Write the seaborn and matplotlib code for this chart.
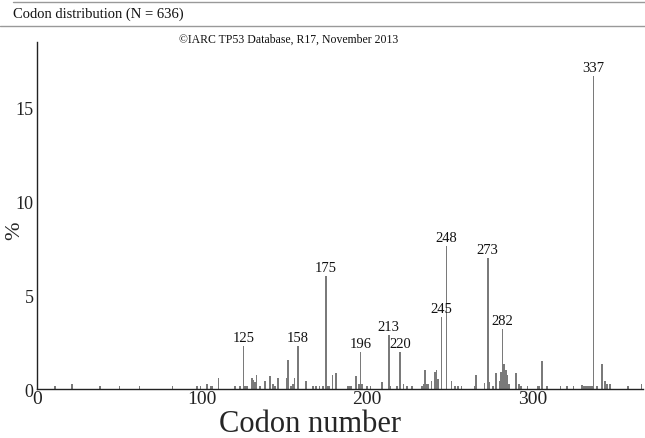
import pandas as pd
import matplotlib
matplotlib.use("Agg")
import matplotlib.pyplot as plt
from matplotlib.lines import Line2D
import seaborn as sns

# codon positions and % of mutations
codons = [11, 21, 38, 50, 62, 82, 97, 99, 103, 105, 106, 110, 120, 123, 125, 126, 127,
          130, 131, 132, 133, 135, 138, 141, 143, 144, 146, 151, 152, 154, 155, 156, 158,
          163, 167, 169, 171, 173, 175, 176, 177, 179, 181, 188, 189, 190, 193, 195, 196,
          197, 200, 202, 209, 213, 214, 218, 220, 222, 224, 227, 233, 234, 235, 236, 237,
          239, 241, 242, 243, 245, 248, 251, 253, 255, 257, 265, 266, 271, 273, 274, 276,
          278, 280, 281, 282, 283, 284, 285, 286, 290, 292, 293, 297, 303, 304, 306, 309,
          317, 321, 325, 330, 331, 332, 333, 334, 335, 336, 337, 339, 342, 344, 345, 347,
          358, 366]
percent = [0.16, 0.31, 0.16, 0.16, 0.16, 0.16, 0.16, 0.16, 0.31, 0.16, 0.16, 0.6, 0.16, 0.16, 2.3, 0.16, 0.16,
           0.6, 0.5, 0.42, 0.75, 0.16, 0.45, 0.72, 0.31, 0.16, 0.6, 0.6, 1.55, 0.16, 0.31, 0.6, 2.3,
           0.47, 0.16, 0.16, 0.16, 0.16, 6.05, 0.16, 0.16, 0.75, 0.9, 0.16, 0.16, 0.16, 0.72, 0.31, 1.98,
           0.31, 0.16, 0.16, 0.38, 2.9, 0.16, 0.16, 1.98, 0.31, 0.16, 0.16, 0.16, 0.31, 1.05, 0.31, 0.31,
           0.45, 0.95, 1.05, 0.55, 3.85, 7.65, 0.45, 0.16, 0.16, 0.16, 0.16, 0.75, 0.35, 7.0, 0.38, 0.16,
           0.9, 0.43, 0.94, 3.2, 1.38, 1.02, 0.75, 0.31, 0.9, 0.31, 0.16, 0.16, 0.16, 0.16, 1.52, 0.16,
           0.16, 0.16, 0.16, 0.25, 0.16, 0.16, 0.16, 0.16, 0.16, 0.16, 16.7, 0.16, 1.38, 0.43, 0.31, 0.31,
           0.16, 0.31]
hotspots = [125, 158, 175, 196, 213, 220, 245, 248, 273, 282, 337]

x_ticks = [0, 100, 200, 300]
y_ticks = [0, 5, 10, 15]

tabela = pd.DataFrame({"codon": codons, "pct": percent})

sns.set_style("ticks")
plt.rcParams["font.family"] = ["Liberation Serif", "DejaVu Serif"]

fig = plt.figure(figsize=(6.45, 4.39), dpi=100)
ax = fig.add_axes([0.0574, 0.1105, 0.9395, 0.7915])

sns.barplot(data=tabela, x="codon", y="pct", native_scale=True, color="#7a7a7a",
            saturation=1, width=1.0, errorbar=None, linewidth=0, ax=ax)

for c in hotspots:
    v = tabela.loc[tabela["codon"] == c, "pct"].iloc[0]
    ax.text(c, v + 0.12, str(c), ha="center", va="bottom", fontsize=10.5, color="#111111")

ax.set_xlim(0, 367)
ax.set_ylim(0, 18.5)
ax.set_xticks(x_ticks)
ax.set_xticklabels([str(t) for t in x_ticks], fontsize=14)
ax.set_yticks(y_ticks)
ax.set_yticklabels([str(t) for t in y_ticks], fontsize=13)
ax.tick_params(axis="both", length=0, colors="#222222")
ax.tick_params(axis="x", pad=0.5)
ax.tick_params(axis="y", pad=2.5)
ax.set_xlabel("Codon number", fontsize=22)
ax.xaxis.set_label_coords(0.45, -0.056)
ax.set_ylabel("%", fontsize=16)
ax.yaxis.set_label_coords(-0.021, 0.46)
sns.despine(ax=ax)
for s in ["left", "bottom"]:
    ax.spines[s].set_color("#222222")
    ax.spines[s].set_linewidth(1.0)

# header with lines
fig.add_artist(Line2D([13 / 645, 1], [1 - 2.5 / 439, 1 - 2.5 / 439], color="#999999", lw=1))
fig.add_artist(Line2D([0, 1], [1 - 26.5 / 439, 1 - 26.5 / 439], color="#999999", lw=1))
fig.text(13 / 645, 1 - 14.5 / 439, "Codon distribution (N = 636)", fontsize=10.5,
         ha="left", va="center", color="#111111")
fig.text(289 / 645, 1 - 40 / 439, "©IARC TP53 Database, R17, November 2013", fontsize=8.5,
         ha="center", va="center", color="#111111")

fig.savefig("out.png", dpi=100)
